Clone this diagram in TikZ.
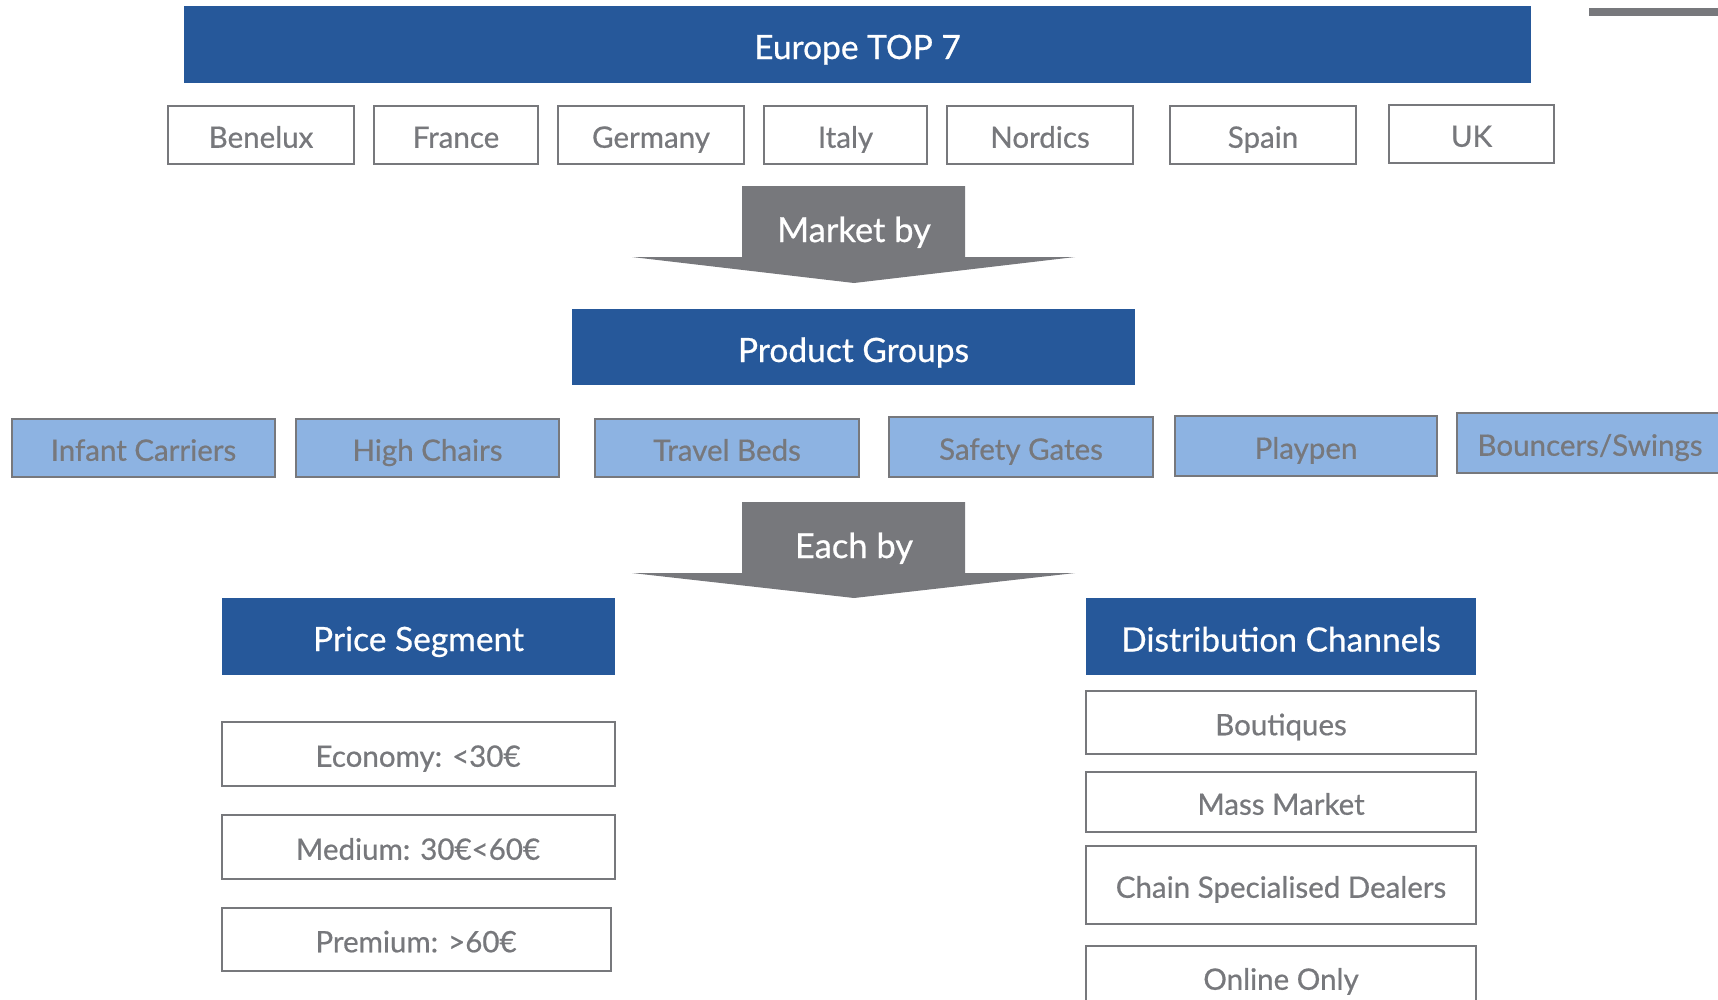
\documentclass[tikz,border=0pt]{standalone}
\usepackage{fontspec}
\setmainfont{Lato}[FakeBold=0.6]
\definecolor{dkblue}{RGB}{38,88,154}
\definecolor{ltblue}{RGB}{141,179,226}
\definecolor{txtgray}{RGB}{119,120,124}
\begin{document}
\begin{tikzpicture}[x=1pt,y=-1pt,
    base/.style={inner sep=0pt, outer sep=0pt, text depth=0pt},
    head/.style={base, fill=dkblue, text=white, text height=30pt, font=\fontsize{33.5}{38}\selectfont},
    cbox/.style={base, draw=txtgray, line width=2pt, fill=white, text=txtgray, text height=25.5pt, font=\fontsize{29.5}{34}\selectfont},
    pbox/.style={cbox, fill=ltblue},
    bigarrow/.style={fill=txtgray, draw=none},
    arrowtxt/.style={base, text=white, text height=30pt, font=\fontsize{34.5}{40}\selectfont}]
  \useasboundingbox (0,0) rectangle (1718,999);
  \draw[txtgray, line width=8pt] (1589,12) -- (1718,12);
  % regions
  \node[head, minimum width=1347pt, minimum height=77pt] (europe) at (857.5,44) {Europe TOP 7};
  \node[cbox, minimum width=186pt, minimum height=58pt] (benelux) at (261,135) {Benelux};
  \node[cbox, minimum width=164pt, minimum height=58pt] (france) at (456,135) {France};
  \node[cbox, minimum width=186pt, minimum height=58pt] (germany) at (651,135) {Germany};
  \node[cbox, minimum width=163pt, minimum height=58pt] (italy) at (845.5,135) {Italy};
  \node[cbox, minimum width=186pt, minimum height=58pt] (nordics) at (1040,135) {Nordics};
  \node[cbox, minimum width=186pt, minimum height=58pt] (spain) at (1263,135) {Spain};
  \node[cbox, minimum width=165pt, minimum height=58pt] (uk) at (1471.5,134) {UK};
  % market by
  \fill[bigarrow] (742,186) -- (965,186) -- (965,257) -- (1075,257) -- (854,283) -- (632,257) -- (742,257) -- cycle;
  \node[arrowtxt] (marketby) at (854,227) {Market by};
  % product groups
  \node[head, minimum width=563pt, minimum height=76pt] (groups) at (853.5,347) {Product Groups};
  \node[pbox, minimum width=263pt, minimum height=58pt] (infant) at (143.5,448) {Infant Carriers};
  \node[pbox, minimum width=263pt, minimum height=58pt] (highchairs) at (427.5,448) {High Chairs};
  \node[pbox, minimum width=264pt, minimum height=58pt] (travelbeds) at (727,448) {Travel Beds};
  \node[pbox, minimum width=264pt, minimum height=60pt] (safety) at (1021,447) {Safety Gates};
  \node[pbox, minimum width=262pt, minimum height=60pt] (playpen) at (1306,446) {Playpen};
  \node[pbox, minimum width=266pt, minimum height=60pt] (bouncers) at (1590,443) {Bouncers/Swings};
  % each by
  \fill[bigarrow] (742,502) -- (965,502) -- (965,573) -- (1075,573) -- (854,598) -- (632,573) -- (742,573) -- cycle;
  \node[arrowtxt] (eachby) at (854,543) {Each by};
  % price segment
  \node[head, minimum width=393pt, minimum height=77pt] (price) at (418.5,636) {Price Segment};
  \node[cbox, minimum width=393pt, minimum height=64pt] (economy) at (418,754) {Economy: <30€};
  \node[cbox, minimum width=393pt, minimum height=64pt] (medium) at (418,847) {Medium: 30€<60€};
  \node[cbox, minimum width=389pt, minimum height=63pt] (premium) at (416,939.5) {Premium: >60€};
  % distribution channels
  \node[head, minimum width=390pt, minimum height=77pt] (channels) at (1281,636.5) {Distribution Channels};
  \node[cbox, minimum width=390pt, minimum height=63pt] (boutiques) at (1281,722.5) {Boutiques};
  \node[cbox, minimum width=390pt, minimum height=60pt] (massmarket) at (1281,802) {Mass Market};
  \node[cbox, minimum width=390pt, minimum height=78pt] (chain) at (1281,885) {Chain Specialised Dealers};
  \node[cbox, minimum width=390pt, minimum height=62pt] (online) at (1281,977) {Online Only};
\end{tikzpicture}
\end{document}
